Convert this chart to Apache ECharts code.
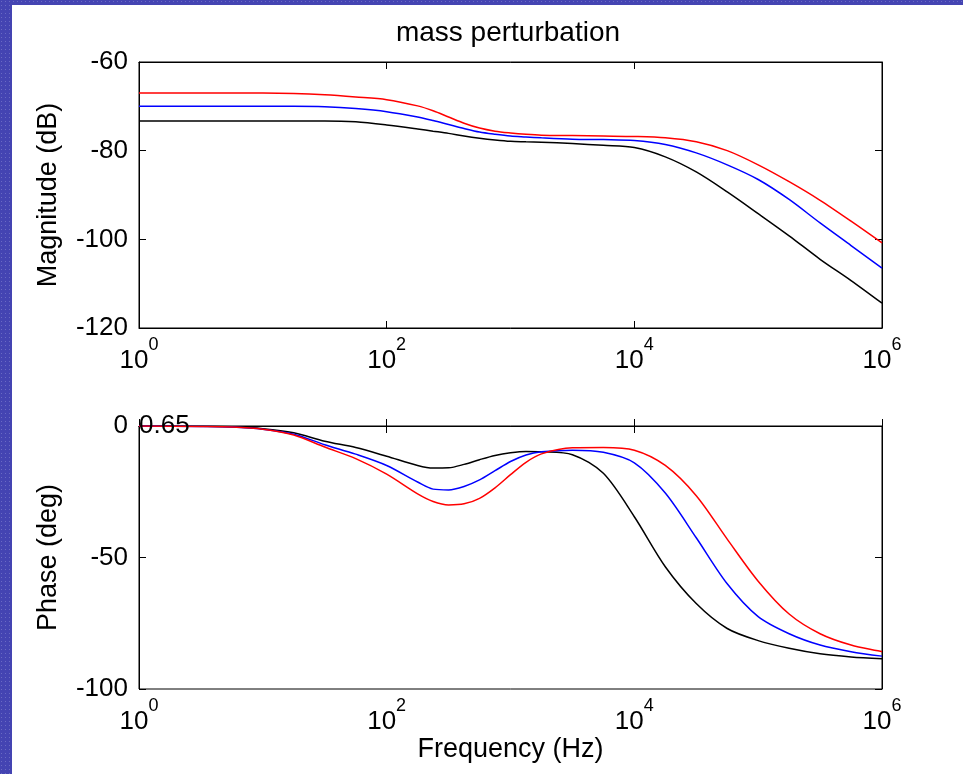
<!DOCTYPE html>
<html>
<head>
<meta charset="utf-8">
<script src="https://cdn.jsdelivr.net/npm/echarts@6/dist/echarts.min.js"></script>
<style>
html,body{margin:0;padding:0;background:#fff;}
#chart{width:963px;height:774px;}
</style>
</head>
<body>
<div id="chart"></div>
<script>
// Frequencies (Hz)
const freq = [1, 3.162, 5.623, 10, 17.78, 31.62, 56.23, 100, 177.8, 237.1, 316.2, 421.7, 562.3, 749.9, 1000, 1334, 1778, 3162, 5623, 10000, 17783, 31623, 56234, 100000, 177828, 316228, 562341, 1000000];

// Magnitude (dB)
const magRed   = [-67.0, -67.0, -67.0, -67.0, -67.1, -67.4, -67.9, -68.5, -69.9, -71.0, -72.4, -73.8, -74.9, -75.6, -76.0, -76.3, -76.5, -76.6, -76.7, -76.8, -77.1, -78.0, -80.0, -83.2, -87.0, -91.2, -95.9, -100.8];
const magBlue  = [-70.0, -70.0, -70.0, -70.0, -70.0, -70.1, -70.5, -71.2, -72.4, -73.2, -74.1, -75.0, -75.8, -76.3, -76.7, -76.9, -77.1, -77.4, -77.5, -77.7, -78.6, -80.5, -83.2, -86.5, -91.0, -96.3, -101.4, -106.5];
const magBlack = [-73.3, -73.3, -73.3, -73.3, -73.3, -73.3, -73.5, -74.2, -75.1, -75.6, -76.1, -76.7, -77.2, -77.6, -77.9, -78.0, -78.1, -78.4, -78.8, -79.3, -81.4, -84.8, -89.3, -94.2, -99.2, -104.5, -109.3, -114.4];

// Phase (deg)
const phRed   = [0, -0.2, -0.4, -1.2, -3.4, -8.0, -12.4, -18.3, -25.8, -28.7, -30.0, -29.6, -27.5, -23.5, -18.5, -13.8, -10.6, -8.3, -8.2, -9.2, -15.0, -26.5, -43.0, -59.0, -71.5, -79.0, -83.3, -85.8];
const phBlue  = [0, -0.2, -0.4, -1.2, -3.1, -7.1, -10.7, -15.0, -21.3, -24.0, -24.3, -23.0, -20.5, -17.0, -13.5, -11.0, -9.8, -9.2, -10.0, -14.0, -25.5, -42.5, -60.0, -72.5, -79.0, -83.3, -85.8, -87.5];
const phBlack = [0, -0.1, -0.3, -1.0, -2.6, -5.8, -8.2, -11.5, -15.0, -16.0, -15.9, -14.6, -12.8, -11.2, -10.2, -9.7, -9.8, -10.9, -18.0, -34.5, -53.5, -67.5, -77.0, -81.6, -84.5, -86.6, -87.8, -88.5];

// Tick settings
const xMin = 1, xMax = 1000000;
const magTicks = {min: -120, max: -60, interval: 20};
const phTicks = {min: -100, max: 0, interval: 50};
const annotation = {x: 1, y: 0, text: '0.65'};

const FONT = '"Liberation Sans", Arial, Helvetica, sans-serif';
const pair = (xs, ys) => xs.map((x, i) => [x, ys[i]]);

// dotted blue tile for the slide border
const tile = document.createElement('canvas');
tile.width = 4; tile.height = 4;
const tctx = tile.getContext('2d');
tctx.fillStyle = '#4444b2'; tctx.fillRect(0, 0, 4, 4);
tctx.fillStyle = '#6a6ac4'; tctx.fillRect(1, 1, 1, 1);

const chart = echarts.init(document.getElementById('chart'), null, {renderer: 'canvas'});

function xAxisDef(grid, pos, showLabels, name) {
  return {
    type: 'log', logBase: 10, gridIndex: grid, position: pos,
    min: xMin, max: xMax, interval: 2,
    axisLine: {show: true, lineStyle: {color: '#000', width: 1}},
    axisTick: {show: true, inside: true, length: 7, lineStyle: {color: '#000', width: 1}},
    splitLine: {show: false}, minorTick: {show: false},
    axisLabel: {
      show: showLabels, margin: 8,
      formatter: v => '{b|10}{s|' + Math.round(Math.log10(v)) + '}',
      rich: {
        b: {fontSize: 26, fontFamily: FONT, color: '#000', lineHeight: 50},
        s: {fontSize: 18, fontFamily: FONT, color: '#000', lineHeight: 18, verticalAlign: 'top'}
      }
    },
    name: name || '', nameLocation: 'middle', nameGap: 45,
    nameTextStyle: {fontSize: 27, fontFamily: FONT, color: '#000'}
  };
}
function yAxisDef(grid, pos, showLabels, t, name) {
  return {
    type: 'value', gridIndex: grid, position: pos,
    min: t.min, max: t.max, interval: t.interval,
    axisLine: {show: true, lineStyle: {color: '#000', width: 1}},
    axisTick: {show: true, inside: true, length: 7, lineStyle: {color: '#000', width: 1}},
    splitLine: {show: false},
    axisLabel: {show: showLabels, margin: 11, fontSize: 26, fontFamily: FONT, color: '#000'},
    name: name || '', nameLocation: 'middle', nameGap: 77,
    nameTextStyle: {fontSize: 27, fontFamily: FONT, color: '#000'}
  };
}
function line(data, color, xi, yi) {
  return {type: 'line', xAxisIndex: xi, yAxisIndex: yi, data: data, smooth: 0.3,
    showSymbol: false, symbol: 'none', lineStyle: {color: color, width: 1.5}, animation: false};
}

const option = {
  backgroundColor: '#fff',
  animation: false,
  grid: [
    {left: 139, top: 62, width: 743, height: 266, show: true, borderColor: '#000', borderWidth: 1, backgroundColor: '#fff'},
    {left: 139, top: 426, width: 743, height: 263, show: true, borderColor: '#000', borderWidth: 1, backgroundColor: '#fff'}
  ],
  xAxis: [
    xAxisDef(0, 'bottom', true),
    xAxisDef(0, 'top', false),
    xAxisDef(1, 'bottom', true, 'Frequency (Hz)'),
    xAxisDef(1, 'top', false)
  ],
  yAxis: [
    yAxisDef(0, 'left', true, magTicks, 'Magnitude (dB)'),
    yAxisDef(0, 'right', false, magTicks),
    yAxisDef(1, 'left', true, phTicks, 'Phase (deg)'),
    yAxisDef(1, 'right', false, phTicks)
  ],
  series: [
    line(pair(freq, magBlack), '#000000', 0, 0),
    line(pair(freq, magBlue), '#0000ff', 0, 0),
    line(pair(freq, magRed), '#ff0000', 0, 0),
    line(pair(freq, phBlack), '#000000', 2, 2),
    line(pair(freq, phBlue), '#0000ff', 2, 2),
    line(pair(freq, phRed), '#ff0000', 2, 2),
    {type: 'scatter', xAxisIndex: 2, yAxisIndex: 2, symbolSize: 0, z: 10, silent: true,
     data: [[annotation.x, annotation.y]],
     label: {show: true, position: 'right', distance: 0, formatter: annotation.text,
             fontSize: 26, fontFamily: FONT, color: '#000', opacity: 1}}
  ],
  graphic: [
    {type: 'rect', shape: {x: 0, y: 0, width: 12, height: 774}, style: {fill: {image: tile, repeat: 'repeat'}}, z: 100},
    {type: 'rect', shape: {x: 0, y: 0, width: 963, height: 5}, style: {fill: {image: tile, repeat: 'repeat'}}, z: 100},
    {type: 'text', x: 508, y: 33, z: 100,
     style: {text: 'mass perturbation', align: 'center', verticalAlign: 'middle',
             font: '28px ' + FONT, fill: '#000'}}
  ]
};
chart.setOption(option);
</script>
</body>
</html>
